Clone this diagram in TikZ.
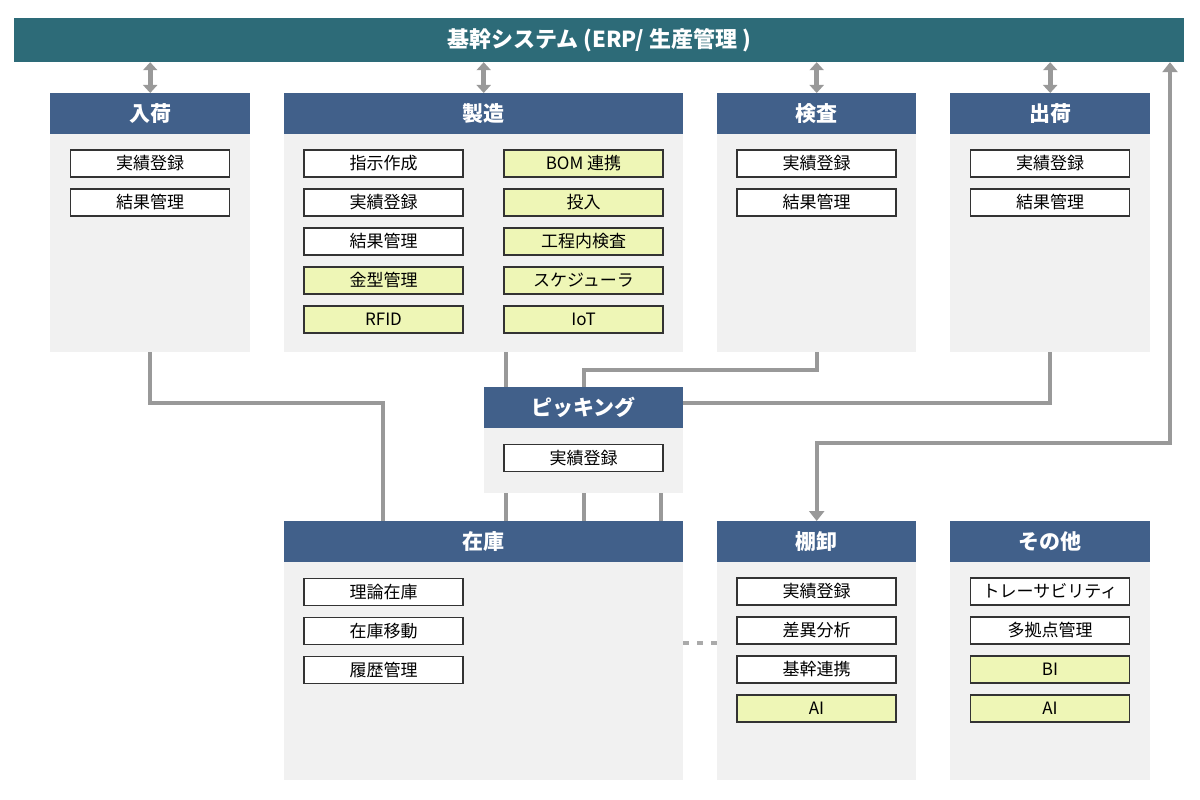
\documentclass[tikz,border=0pt]{standalone}
\usepackage{fontspec}
\setmainfont{Noto Sans CJK JP}
\usetikzlibrary{arrows.meta}
\definecolor{tealbar}{HTML}{2D6B78}
\definecolor{hdrblue}{HTML}{41608A}
\definecolor{panelgray}{HTML}{F1F1F1}
\definecolor{itemline}{HTML}{333333}
\definecolor{itemyellow}{HTML}{EEF6B6}
\definecolor{conngray}{HTML}{999999}
\definecolor{dashgray}{HTML}{AAAAAA}
\begin{document}
\begin{tikzpicture}[x=1pt,y=-1pt,
  bar/.style={fill=tealbar, text=white, font=\fontsize{22}{26}\selectfont\bfseries, minimum width=1170pt, minimum height=44pt, inner sep=0pt},
  hdr/.style={fill=hdrblue, text=white, font=\fontsize{21}{25}\selectfont\bfseries, minimum height=41pt, inner sep=0pt, anchor=north west},
  panel/.style={fill=panelgray, inner sep=0pt, anchor=north west},
  item/.style={draw=itemline, line width=1.8pt, fill=white, minimum width=159pt, minimum height=27pt, inner sep=0pt, font=\fontsize{17}{20}\selectfont},
  itemy/.style={item, fill=itemyellow},
  conn/.style={draw=conngray, line width=4pt},
  tipT/.tip={Triangle[width=14pt,length=8pt]},
  dbl/.style={draw=conngray, line width=5pt, tipT-tipT},
  longarr/.style={draw=conngray, line width=4pt, {Triangle[width=15pt,length=10pt]}-{Triangle[width=15pt,length=10pt]}}
]
\useasboundingbox[fill=white] (0,0) rectangle (1200,800);

% ERP bar
\node[bar] (erp) at (599,40) {基幹システム (ERP/ 生産管理 )};

% ---- top row panels ----
\node[panel, minimum width=200pt, minimum height=259pt] (inB) at (50,93) {};
\node[hdr, minimum width=200pt] (inH) at (50,93) {入荷};
\node[panel, minimum width=399pt, minimum height=259pt] (mfgB) at (284,93) {};
\node[hdr, minimum width=399pt] (mfgH) at (284,93) {製造};
\node[panel, minimum width=199pt, minimum height=259pt] (kenB) at (717,93) {};
\node[hdr, minimum width=199pt] (kenH) at (717,93) {検査};
\node[panel, minimum width=200pt, minimum height=259pt] (shB) at (950,93) {};
\node[hdr, minimum width=200pt] (shH) at (950,93) {出荷};

% items 入荷
\node[item] (in1) at (150,163.5) {実績登録};
\node[item] (in2) at (150,202.5) {結果管理};
% items 製造
\node[item] (m1) at (383.5,163.5) {指示作成};
\node[item] (m2) at (383.5,202.5) {実績登録};
\node[item] (m3) at (383.5,241.5) {結果管理};
\node[itemy] (m4) at (383.5,280.5) {金型管理};
\node[itemy] (m5) at (383.5,319.5) {RFID};
\node[itemy] (m6) at (583.5,163.5) {BOM 連携};
\node[itemy] (m7) at (583.5,202.5) {投入};
\node[itemy] (m8) at (583.5,241.5) {工程内検査};
\node[itemy] (m9) at (583.5,280.5) {スケジューラ};
\node[itemy] (m10) at (583.5,319.5) {IoT};
% items 検査
\node[item] (k1) at (816.5,163.5) {実績登録};
\node[item] (k2) at (816.5,202.5) {結果管理};
% items 出荷
\node[item] (s1) at (1050,163.5) {実績登録};
\node[item] (s2) at (1050,202.5) {結果管理};

% ---- picking ----
\node[panel, minimum width=199pt, minimum height=106pt] (pkB) at (484,387) {};
\node[hdr, minimum width=199pt] (pkH) at (484,387) {ピッキング};
\node[item] (p1) at (583.5,458) {実績登録};

% ---- bottom row panels ----
\node[panel, minimum width=399pt, minimum height=259pt] (zB) at (284,521) {};
\node[hdr, minimum width=399pt] (zH) at (284,521) {在庫};
\node[panel, minimum width=199pt, minimum height=259pt] (tB) at (717,521) {};
\node[hdr, minimum width=199pt] (tH) at (717,521) {棚卸};
\node[panel, minimum width=200pt, minimum height=259pt] (oB) at (950,521) {};
\node[hdr, minimum width=200pt] (oH) at (950,521) {その他};

\node[item] (z1) at (383.5,592) {理論在庫};
\node[item] (z2) at (383.5,631) {在庫移動};
\node[item] (z3) at (383.5,670) {履歴管理};

\node[item] (t1) at (816.5,591.5) {実績登録};
\node[item] (t2) at (816.5,630.5) {差異分析};
\node[item] (t3) at (816.5,669.5) {基幹連携};
\node[itemy] (t4) at (816.5,708.5) {AI};

\node[item] (o1) at (1050,591.5) {トレーサビリティ};
\node[item] (o2) at (1050,630.5) {多拠点管理};
\node[itemy] (o3) at (1050,669.5) {BI};
\node[itemy] (o4) at (1050,708.5) {AI};

% ---- ERP double arrows ----
\draw[dbl] (erp.south -| inH.north) -- (inH.north);
\draw[dbl] (erp.south -| mfgH.north) -- (mfgH.north);
\draw[dbl] (erp.south -| kenH.north) -- (kenH.north);
\draw[dbl] (erp.south -| shH.north) -- (shH.north);

% ---- connectors ----
\coordinate (zk1) at ([xshift=99pt]zH.north west);
\coordinate (pk1) at ([xshift=22pt]pkH.north west);
\coordinate (pk3) at ([xshift=-22pt]pkH.north east);
\draw[conn] (inB.south) -- ++(0,51) -| (zk1);
\draw[conn] (mfgB.south -| pk1) -- (pk1);
\draw[conn] (kenB.south) -- ++(0,18) -| (pkH.north);
\draw[conn] (shB.south) |- ([yshift=4.5pt]pkH.east);
\draw[conn] (pk1 |- pkB.south) -- (pk1 |- zH.north);
\draw[conn] (pkB.south) -- (pkB.south |- zH.north);
\draw[conn] (pk3 |- pkB.south) -- (pk3 |- zH.north);

% long return arrow
\coordinate (ret) at (1170,443);
\draw[longarr] (tH.north) |- (ret) -- (ret |- erp.south);

% dotted link 在庫 - 棚卸
\coordinate (dl) at (0,643);
\draw[draw=dashgray, line width=3.5pt, dash pattern=on 6pt off 8pt] (zB.east |- dl) -- (tB.west |- dl);
\end{tikzpicture}
\end{document}
